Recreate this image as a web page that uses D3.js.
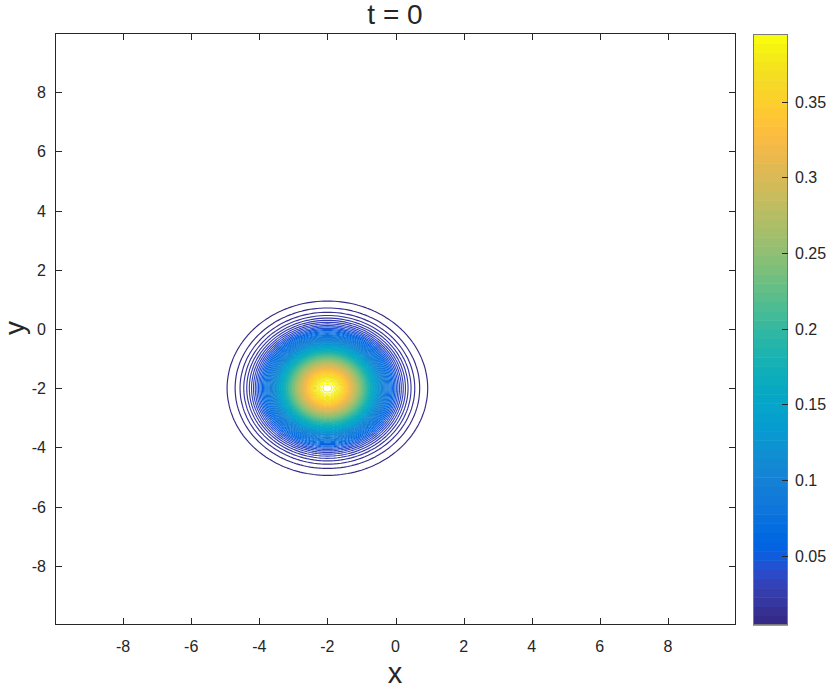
<!DOCTYPE html>
<html><head><meta charset="utf-8">
<script src="https://cdn.jsdelivr.net/npm/d3@7"></script>
<style>body{margin:0;background:#fff} text{font-family:"Liberation Sans",Arial,sans-serif;fill:#262626}</style>
</head><body><svg id="c" width="830" height="689"></svg>
<script>
// ---- data ----
const xDomain = [-10, 10];
const yDomain = [-10, 10];
const xTicks = [-8, -6, -4, -2, 0, 2, 4, 6, 8];
const yTicks = [-8, -6, -4, -2, 0, 2, 4, 6, 8];
const cbTicks = [0.05, 0.1, 0.15, 0.2, 0.25, 0.3, 0.35];
const cbTickLabels = ["0.05", "0.1", "0.15", "0.2", "0.25", "0.3", "0.35"];
const peakCenter = [-2, -2];
const peakAmplitude = [0.3989];
const peakSigma = [0.975];
const levelRange = [0.0042, 0.3947];
const levelCount = [94];
const gridStep = [0.1];
const titleText = "t = 0";
const parula = [
[0.2081,0.1663,0.5292],[0.2116,0.1898,0.5777],[0.2123,0.2138,0.6270],[0.2081,0.2386,0.6771],
[0.1959,0.2645,0.7279],[0.1707,0.2919,0.7792],[0.1253,0.3242,0.8303],[0.0591,0.3598,0.8683],
[0.0117,0.3875,0.8820],[0.0060,0.4086,0.8828],[0.0165,0.4266,0.8786],[0.0329,0.4430,0.8720],
[0.0498,0.4586,0.8641],[0.0629,0.4737,0.8554],[0.0723,0.4887,0.8467],[0.0779,0.5040,0.8384],
[0.0793,0.5200,0.8312],[0.0749,0.5375,0.8263],[0.0641,0.5570,0.8240],[0.0488,0.5772,0.8228],
[0.0343,0.5966,0.8199],[0.0265,0.6137,0.8135],[0.0239,0.6287,0.8038],[0.0231,0.6418,0.7913],
[0.0228,0.6535,0.7768],[0.0267,0.6642,0.7607],[0.0384,0.6743,0.7436],[0.0590,0.6838,0.7254],
[0.0843,0.6928,0.7062],[0.1133,0.7015,0.6859],[0.1453,0.7098,0.6646],[0.1801,0.7177,0.6424],
[0.2178,0.7250,0.6193],[0.2586,0.7317,0.5954],[0.3022,0.7376,0.5712],[0.3482,0.7424,0.5473],
[0.3953,0.7459,0.5244],[0.4420,0.7481,0.5033],[0.4871,0.7491,0.4840],[0.5300,0.7491,0.4661],
[0.5709,0.7485,0.4494],[0.6099,0.7473,0.4337],[0.6473,0.7456,0.4188],[0.6834,0.7435,0.4044],
[0.7184,0.7411,0.3905],[0.7525,0.7384,0.3768],[0.7858,0.7356,0.3633],[0.8185,0.7327,0.3498],
[0.8507,0.7299,0.3360],[0.8824,0.7274,0.3217],[0.9139,0.7258,0.3063],[0.9450,0.7261,0.2886],
[0.9739,0.7314,0.2666],[0.9938,0.7455,0.2403],[0.9990,0.7653,0.2164],[0.9955,0.7861,0.1967],
[0.9880,0.8066,0.1794],[0.9789,0.8271,0.1633],[0.9697,0.8481,0.1475],[0.9626,0.8705,0.1309],
[0.9589,0.8949,0.1132],[0.9598,0.9218,0.0948],[0.9661,0.9514,0.0755],[0.9763,0.9831,0.0538]
];

// ---- layout ----
const P = {left: 55, right: 736, top: 33, bottom: 625};
const CB = {left: 753, right: 788, top: 34, bottom: 625};
const ink = "#262626";

const svg = d3.select("#c");
const xs = d3.scaleLinear().domain(xDomain).range([P.left, P.right]);
const ys = d3.scaleLinear().domain(yDomain).range([P.bottom, P.top]);
const colors = parula.map(c => d3.rgb(c[0]*255, c[1]*255, c[2]*255).formatHex());
const cmap = d3.scaleQuantize().domain(levelRange).range(colors);

// field on grid
const step = gridStep[0];
const nx = Math.round((xDomain[1]-xDomain[0])/step) + 1;
const ny = Math.round((yDomain[1]-yDomain[0])/step) + 1;
const values = new Float64Array(nx*ny);
const s2 = 2*peakSigma[0]*peakSigma[0];
for (let j = 0; j < ny; j++) {
  const y = yDomain[0] + j*step;
  for (let i = 0; i < nx; i++) {
    const x = xDomain[0] + i*step;
    const dx = x - peakCenter[0], dy = y - peakCenter[1];
    values[j*nx+i] = peakAmplitude[0]*Math.exp(-(dx*dx+dy*dy)/s2);
  }
}
const N = levelCount[0];
const levels = d3.range(N).map(k => levelRange[0] + k*(levelRange[1]-levelRange[0])/(N-1));
const contours = d3.contours().size([nx, ny]).thresholds(levels)(values);
const proj = d3.geoTransform({
  point: function(gx, gy) {
    this.stream.point(xs(xDomain[0] + (gx-0.5)*step), ys(yDomain[0] + (gy-0.5)*step));
  }
});
const path = d3.geoPath(proj);

svg.append("defs").append("clipPath").attr("id","clip")
  .append("rect").attr("x",P.left).attr("y",P.top)
  .attr("width",P.right-P.left).attr("height",P.bottom-P.top);

svg.append("g").attr("clip-path","url(#clip)")
  .selectAll("path").data(contours).join("path")
  .attr("d", path).attr("fill","none")
  .attr("stroke", d => cmap(d.value)).attr("stroke-width", 1.15);

// axes box + ticks
const ax = svg.append("g");
ax.append("rect").attr("x",P.left+0.5).attr("y",P.top+0.5)
  .attr("width",P.right-P.left-1).attr("height",P.bottom-P.top-1)
  .attr("fill","none").attr("stroke",ink).attr("stroke-width",1);
const tl = 7;
xTicks.forEach(t => {
  const x = Math.round(xs(t)) + 0.5;
  ax.append("line").attr("x1",x).attr("x2",x).attr("y1",P.bottom).attr("y2",P.bottom-tl).attr("stroke",ink);
  ax.append("line").attr("x1",x).attr("x2",x).attr("y1",P.top).attr("y2",P.top+tl).attr("stroke",ink);
  ax.append("text").attr("x",xs(t)).attr("y",652).attr("text-anchor","middle")
    .attr("font-size",16).text(t);
});
yTicks.forEach(t => {
  const y = Math.round(ys(t)) + 0.5;
  ax.append("line").attr("x1",P.left).attr("x2",P.left+tl).attr("y1",y).attr("y2",y).attr("stroke",ink);
  ax.append("line").attr("x1",P.right).attr("x2",P.right-tl).attr("y1",y).attr("y2",y).attr("stroke",ink);
  ax.append("text").attr("x",46).attr("y",ys(t)+6).attr("text-anchor","end")
    .attr("font-size",16).text(t);
});

// labels
svg.append("text").attr("x",395).attr("y",24).attr("text-anchor","middle")
  .attr("font-size",28).text(titleText);
svg.append("text").attr("x",395).attr("y",683).attr("text-anchor","middle")
  .attr("font-size",29).text("x");
svg.append("text").attr("transform","translate(24,328) rotate(-90)").attr("text-anchor","middle")
  .attr("font-size",28).text("y");

// colorbar
const cs = d3.scaleLinear().domain(levelRange).range([CB.bottom, CB.top]);
const cb = svg.append("g");
const nb = colors.length;
colors.forEach((c, k) => {
  const v0 = levelRange[0] + k*(levelRange[1]-levelRange[0])/nb;
  const v1 = levelRange[0] + (k+1)*(levelRange[1]-levelRange[0])/nb;
  cb.append("rect").attr("x",CB.left).attr("width",CB.right-CB.left)
    .attr("y",cs(v1)).attr("height",cs(v0)-cs(v1)+0.5).attr("fill",c);
});
cb.append("rect").attr("x",CB.left+0.5).attr("y",CB.top+0.5)
  .attr("width",CB.right-CB.left-1).attr("height",CB.bottom-CB.top-1)
  .attr("fill","none").attr("stroke","#7a7a7a");
cbTicks.forEach((t, i) => {
  const y = Math.round(cs(t)) + 0.5;
  cb.append("line").attr("x1",CB.right).attr("x2",CB.right-6).attr("y1",y).attr("y2",y).attr("stroke",ink);
  cb.append("text").attr("x",795).attr("y",cs(t)+6).attr("font-size",16).text(cbTickLabels[i]);
});
</script></body></html>
